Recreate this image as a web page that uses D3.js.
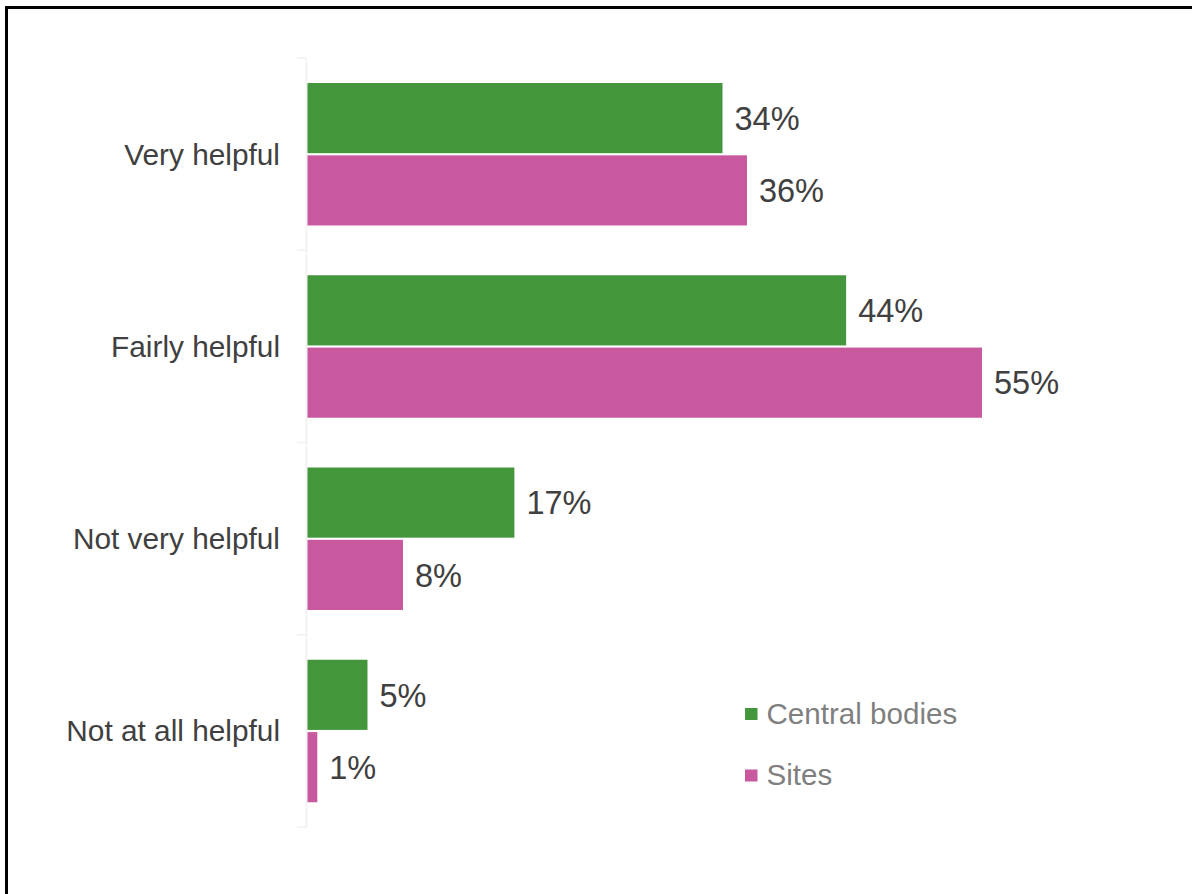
<!DOCTYPE html>
<html>
<head>
<meta charset="utf-8">
<script src="https://cdn.jsdelivr.net/npm/d3@7"></script>
<style>
  html, body { margin: 0; padding: 0; background: #fff; overflow: hidden; }
  svg { display: block; font-family: "Liberation Sans", Arial, sans-serif; }
</style>
</head>
<body>
<div id="chart"></div>
<script>
// data (percent)
const categories = ['Very helpful', 'Fairly helpful', 'Not very helpful', 'Not at all helpful'];
const seriesNames = ['Central bodies', 'Sites'];
const centralBodies = [33.9, 44.0, 16.9, 4.9];
const sites = [35.9, 55.1, 7.8, 0.8];
const seriesColors = ['#43963b', '#c8599f'];

const width = 1192;
const height = 894;

const svg = d3.select('#chart')
  .append('svg')
  .attr('width', width)
  .attr('height', height);

// frame round the chart
svg.append('rect')
  .attr('x', 6.5).attr('y', 7.5)
  .attr('width', 1300).attr('height', 1000)
  .attr('fill', 'none')
  .attr('stroke', '#000')
  .attr('stroke-width', 3);

const x = d3.scaleLinear().domain([0, 60]).range([307, 1041.5]);
const y = d3.scaleBand().domain(categories).range([58, 827]);
const ySub = d3.scaleBand().domain(seriesNames).range([25, 167.5]).paddingInner(0.03);

const rows = categories.map((c, i) => ({
  cat: c,
  vals: [
    {name: seriesNames[0], v: centralBodies[i]},
    {name: seriesNames[1], v: sites[i]}
  ]
}));

// category axis
const yAxis = svg.append('g')
  .attr('transform', 'translate(306,0)')
  .call(d3.axisLeft(y).tickSize(0).tickPadding(26));
yAxis.select('.domain').attr('stroke', '#f0f0f0').attr('stroke-width', 1.5);
yAxis.selectAll('text')
  .attr('fill', '#404040')
  .style('font-size', '29.8px')
  .attr('dy', '0.35em');

// ticks at band edges
const edges = categories.map(c => y(c)).concat([y.range()[1]]);
yAxis.selectAll('.edge')
  .data(edges)
  .join('line')
  .attr('class', 'edge')
  .attr('x1', -9).attr('x2', 0)
  .attr('y1', d => d).attr('y2', d => d)
  .attr('stroke', '#f0f0f0')
  .attr('stroke-width', 1.5);

const groups = svg.selectAll('.grp')
  .data(rows)
  .join('g')
  .attr('class', 'grp')
  .attr('transform', d => `translate(0,${y(d.cat)})`);

groups.selectAll('rect')
  .data(d => d.vals)
  .join('rect')
  .attr('x', x(0) + 0.5)
  .attr('y', d => ySub(d.name))
  .attr('width', d => x(d.v) - x(0))
  .attr('height', ySub.bandwidth())
  .attr('fill', (d, i) => seriesColors[i]);

groups.selectAll('text.val')
  .data(d => d.vals)
  .join('text')
  .attr('class', 'val')
  .attr('x', d => x(d.v) + 12.5)
  .attr('y', d => ySub(d.name) + ySub.bandwidth() / 2)
  .attr('dy', '0.36em')
  .attr('fill', '#404040')
  .style('font-size', '32.5px')
  .text(d => Math.round(d.v) + '%');

// legend
const legend = svg.append('g')
  .attr('transform', 'translate(745,708)');
const li = legend.selectAll('g')
  .data(seriesNames)
  .join('g')
  .attr('transform', (d, i) => `translate(0,${i * 61.5})`);
li.append('rect')
  .attr('width', 12.5).attr('height', 12)
  .attr('fill', (d, i) => seriesColors[i]);
li.append('text')
  .attr('x', 21.5)
  .attr('y', 15.5)
  .attr('fill', '#7f7f7f')
  .style('font-size', '29.6px')
  .text(d => d);
</script>
</body>
</html>
